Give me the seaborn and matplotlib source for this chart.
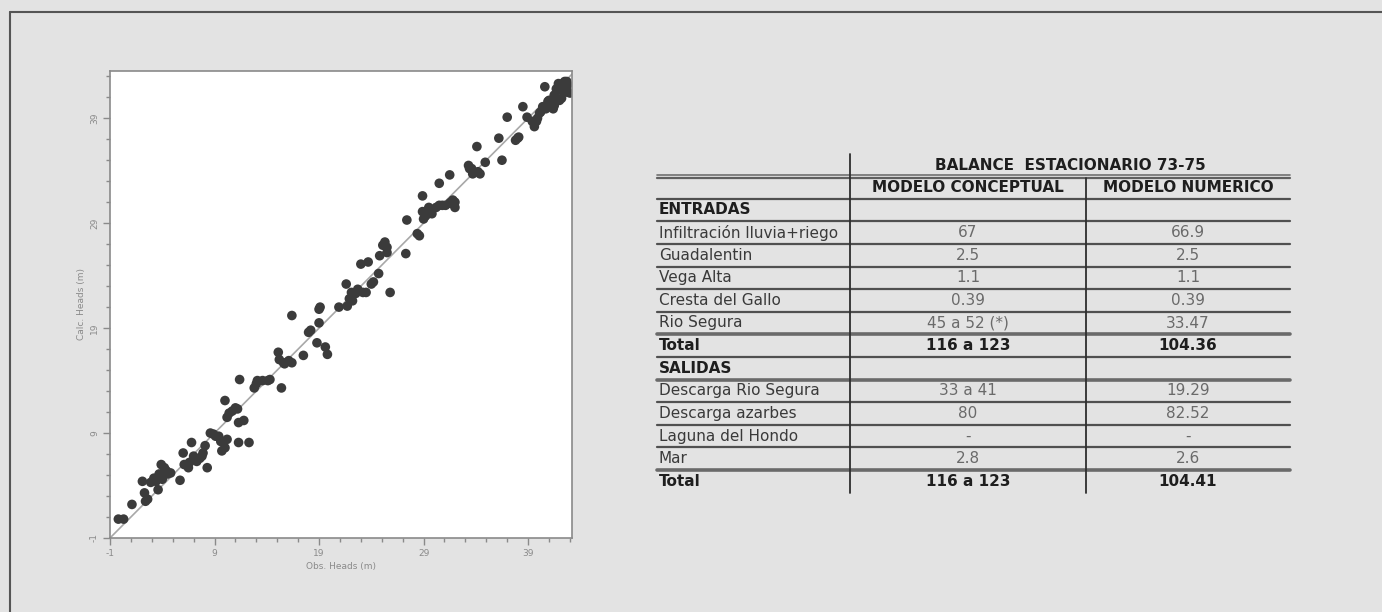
import matplotlib
matplotlib.use("Agg")
import matplotlib.pyplot as plt
import seaborn as sns
import pandas as pd
from matplotlib.ticker import MultipleLocator

# ---------------- data ----------------
obs_heads = [-0.2, 0.3, 1.1, 2.1, 2.3, 2.4, 2.6, 2.9, 3.4, 3.6, 3.9, 4.0, 4.4, 4.5, 4.2, 5.7, 6.0, 6.1,
             6.5, 6.8, 7.0, 7.3, 7.6, 7.9, 8.3, 8.1, 8.6, 9.1, 9.6, 9.7, 10.0, 10.2, 10.0, 10.2, 10.7,
             11.2, 11.3, 11.8, 11.3, 12.3, 11.4, 12.8, 13.1, 14.1, 15.4, 15.1, 15.2, 15.7, 16.4, 16.4,
             17.5, 18.0, 18.8, 19.6, 19.8, 19.0, 19.1, 20.9, 21.6, 21.7, 22.2, 22.5, 23.0, 23.7, 23.5,
             24.0, 24.8, 25.3, 25.5, 25.8, 27.3, 27.4, 28.6, 28.9, 29.0, 29.4, 28.9, 29.8, 30.2, 30.8,
             31.5, 31.8, 32.0, 30.5, 31.5, 33.4, 33.7, 34.2, 34.1, 34.9, 36.2, 36.5, 37.0, 37.8, 38.1,
             38.5, 38.9, 39.6, 39.8, 40.1, 40.4, 40.6, 40.9, 41.2, 41.5, 41.9, 42.0, 42.2, 42.5, 42.8,
             43.0, 42.7, 41.5,
             3.2, 3.7, 4.8, 6.6, 7.1, 7.8, 8.9, 9.4, 10.4, 11.0, 13.0, 13.6, 14.3, 15.6, 16.1, 18.2,
             19.0, 21.9, 22.1, 22.7, 23.2, 24.2, 24.7, 25.1, 25.5, 28.4, 29.2, 29.5, 30.5, 31.1, 31.6,
             32.0, 33.3, 33.6, 34.4, 38.0, 39.4, 39.9, 40.2, 40.7, 41.0, 41.4, 41.7, 41.9, 42.2, 42.3,
             42.7, 42.8, 41.7]
calc_heads = [0.8, 0.8, 2.2, 4.4, 3.3, 2.5, 2.7, 4.3, 4.4, 3.6, 6.0, 4.6, 5.4, 5.1, 5.7, 4.5, 7.1, 6.0,
              5.7, 8.1, 6.8, 6.3, 6.6, 7.1, 5.7, 7.8, 9.0, 8.7, 8.2, 7.3, 7.6, 8.4, 12.1, 10.5, 11.1,
              11.3, 10.0, 10.2, 8.1, 8.1, 14.1, 13.3, 14.0, 14.0, 13.3, 16.7, 16.0, 15.6, 15.7, 20.2,
              16.4, 18.6, 17.6, 17.2, 16.5, 20.8, 21.0, 21.0, 23.2, 21.1, 21.6, 22.3, 25.1, 25.3, 22.4,
              23.2, 25.9, 27.2, 26.7, 22.4, 26.1, 29.3, 27.8, 30.1, 29.4, 30.2, 31.6, 29.9, 30.5, 30.7,
              30.9, 31.2, 30.5, 32.8, 33.6, 34.2, 33.7, 33.9, 36.3, 34.8, 37.1, 35.0, 39.1, 36.9, 37.2,
              40.1, 39.1, 38.2, 38.7, 39.5, 40.1, 42.0, 40.6, 40.2, 41.2, 42.3, 40.7, 41.7, 42.5, 42.2,
              41.4, 41.5, 40.2,
              4.7, 5.1, 5.2, 6.2, 6.5, 6.8, 8.9, 8.7, 10.9, 11.4, 13.7, 14.0, 14.1, 15.7, 15.9, 18.8,
              19.5, 21.8, 22.4, 22.7, 22.4, 23.4, 24.2, 26.9, 26.2, 28.0, 29.7, 30.5, 30.7, 30.7, 31.0,
              31.0, 34.5, 34.2, 33.7, 37.1, 38.7, 39.0, 39.6, 39.9, 40.7, 39.9, 40.7, 41.7, 40.9, 42.3,
              42.5, 41.5, 41.8]
axis_ticks = [-1, 9, 19, 29, 39]
axis_tick_labels = ["-1", "9", "19", "29", "39"]
x_label = "Obs. Heads (m)"
y_label = "Calc. Heads (m)"

table_title = "BALANCE  ESTACIONARIO 73-75"
col_headers = ["MODELO CONCEPTUAL", "MODELO NUMERICO"]
row_labels = ["ENTRADAS", "Infiltración lluvia+riego", "Guadalentin", "Vega Alta", "Cresta del Gallo",
              "Rio Segura", "Total", "SALIDAS", "Descarga Rio Segura", "Descarga azarbes",
              "Laguna del Hondo", "Mar", "Total"]
conceptual = ["", "67", "2.5", "1.1", "0.39", "45 a 52 (*)", "116 a 123", "", "33 a 41", "80", "-",
              "2.8", "116 a 123"]
numerico = ["", "66.9", "2.5", "1.1", "0.39", "33.47", "104.36", "", "19.29", "82.52", "-", "2.6",
            "104.41"]
bold_rows = ["ENTRADAS", "Total", "SALIDAS"]

# ---------------- figure ----------------
sns.set_style("ticks")
plt.rcParams['font.family'] = ['DejaVu Sans']
W, H = 1382, 612
bg = "#e3e3e3"
fig = plt.figure(figsize=(W / 100, H / 100), dpi=100, facecolor=bg)

# overlay for frame + table (pixel coordinates)
tab = fig.add_axes([0, 0, 1, 1])
tab.set_xlim(0, W)
tab.set_ylim(H, 0)
tab.axis("off")
tab.plot([10, W], [12, 12], color="#555555", lw=1.5)
tab.plot([10, 10], [12, H], color="#555555", lw=1.5)

# scatter axes
ax = fig.add_axes([110 / W, 1 - 538 / H, 462 / W, 467 / H])
ax.set_facecolor("white")
df = pd.DataFrame({"obs": obs_heads, "calc": calc_heads})
ax.axline((0, 0), slope=1, color="#a8a8a8", lw=1.2, zorder=1)
sns.scatterplot(data=df, x="obs", y="calc", ax=ax, s=48, color="#3b3b3b", edgecolor="none",
                zorder=2, legend=False)
ax.set_xlim(-1, 43.2)
ax.set_ylim(-1, 43.5)
ax.set_xticks(axis_ticks)
ax.set_xticklabels(axis_tick_labels)
ax.set_yticks(axis_ticks)
ax.set_yticklabels(axis_tick_labels, rotation=90, va="center")
ax.xaxis.set_minor_locator(MultipleLocator(2, offset=1))
ax.yaxis.set_minor_locator(MultipleLocator(2, offset=1))
ax.tick_params(which="major", direction="out", length=5, width=1, color="#8a8a8a",
               labelsize=6.5, labelcolor="#8a8a8a", pad=3)
ax.tick_params(which="minor", direction="out", length=3, width=1, color="#8a8a8a")
for sp in ax.spines.values():
    sp.set_color("#8a8a8a")
    sp.set_linewidth(1.2)
ax.set_xlabel(x_label, fontsize=6.5, color="#8a8a8a", labelpad=3)
ax.set_ylabel(y_label, fontsize=6.5, color="#8a8a8a", labelpad=3)

# ---------------- table ----------------
x_left, x_div1, x_div2, x_right = 657, 850, 1086, 1290
c2 = (x_div1 + x_div2) / 2
c3 = (x_div2 + x_right) / 2
fs = 11
line_col = "#505050"

tab.text((x_div1 + x_right) / 2, 165, table_title, ha="center", va="center", fontsize=fs,
         fontweight="bold", color="#1e1e1e")
tab.text(c2, 188, col_headers[0], ha="center", va="center", fontsize=fs, fontweight="bold",
         color="#1e1e1e")
tab.text(c3, 188, col_headers[1], ha="center", va="center", fontsize=fs, fontweight="bold",
         color="#1e1e1e")

tab.plot([x_left, x_right], [175, 175], color="#707070", lw=1.2)
tab.plot([x_left, x_right], [178, 178], color="#606060", lw=1.6)
tab.plot([x_left, x_right], [199, 199], color=line_col, lw=1.6)

row0, step = 210, 22.6
thick_after = ["Rio Segura", "SALIDAS", "Mar"]
for i, (lab, v1, v2) in enumerate(zip(row_labels, conceptual, numerico)):
    yc = row0 + i * step
    is_bold = lab in bold_rows
    tab.text(x_left + 2, yc, lab, ha="left", va="center", fontsize=fs,
             fontweight="bold" if is_bold else "normal",
             color="#1e1e1e" if is_bold else "#3a3a3a")
    vcol = "#1e1e1e" if is_bold else "#6a6a6a"
    tab.text(c2, yc, v1, ha="center", va="center", fontsize=fs,
             fontweight="bold" if is_bold else "normal", color=vcol)
    tab.text(c3, yc, v2, ha="center", va="center", fontsize=fs,
             fontweight="bold" if is_bold else "normal", color=vcol)
    if i < len(row_labels) - 1:
        yl = yc + step / 2
        if lab in thick_after:
            tab.plot([x_left, x_right], [yl, yl], color="#6a6a6a", lw=2.6)
        else:
            tab.plot([x_left, x_right], [yl, yl], color=line_col, lw=1.6)

y_end = row0 + (len(row_labels) - 1) * step + 12
tab.plot([x_div1, x_div1], [154, y_end], color="#2e2e2e", lw=1.3)
tab.plot([x_div2, x_div2], [178, y_end], color="#2e2e2e", lw=1.3)

fig.savefig("out.png", dpi=100, facecolor=bg)
